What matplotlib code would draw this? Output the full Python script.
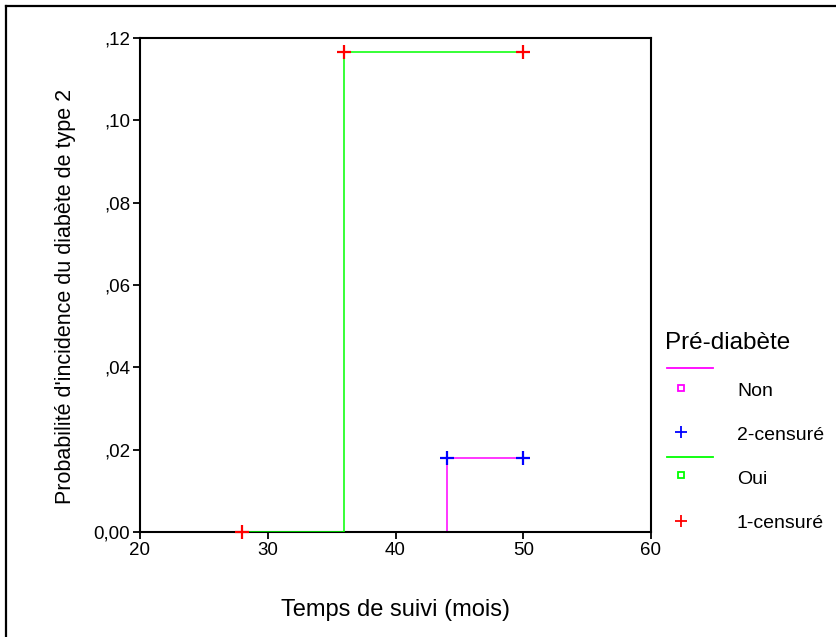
import matplotlib
matplotlib.use("Agg")
import matplotlib.pyplot as plt
from matplotlib.lines import Line2D

plt.rcParams['font.family'] = ['Liberation Sans', 'DejaVu Sans']

# Données (courbes en escalier)
non_t = [28, 44, 44, 50]
non_p = [0.0, 0.0, 0.018, 0.018]
non_cens_t = [44, 50]
non_cens_p = [0.018, 0.018]

oui_t = [28, 36, 36, 50]
oui_p = [0.0, 0.0, 0.1166, 0.1166]
oui_cens_t = [28, 36, 50]
oui_cens_p = [0.0, 0.1166, 0.1166]

xticks = [20, 30, 40, 50, 60]
yticks = [0.0, 0.02, 0.04, 0.06, 0.08, 0.10, 0.12]
ylabels = ['0,00', ',02', ',04', ',06', ',08', ',10', ',12']

W, H = 837, 637
fig = plt.figure(figsize=(W / 100, H / 100), dpi=100)
ax = fig.add_axes([140 / W, 1 - 532 / H, (651 - 140) / W, (532 - 38) / H])

ax.plot(non_t, non_p, color='#ff00ff', lw=1.1, zorder=2)
ax.plot(oui_t, oui_p, color='#00ff00', lw=1.1, zorder=3)
ax.plot(non_cens_t, non_cens_p, ls='none', marker='+', ms=10, mew=1.6,
        color='#0000ff', zorder=4, clip_on=False)
ax.plot(oui_cens_t, oui_cens_p, ls='none', marker='+', ms=10, mew=1.6,
        color='#ff0000', zorder=4, clip_on=False)

ax.set_xlim(20, 60)
ax.set_ylim(0, 0.12)
ax.set_xticks(xticks)
ax.set_xticklabels([str(v) for v in xticks])
ax.set_yticks(yticks)
ax.set_yticklabels(ylabels)
ax.tick_params(direction='out', length=5, width=1.3, labelsize=13.5, pad=2)
for s in ax.spines.values():
    s.set_linewidth(1.5)

ax.set_xlabel('Temps de suivi (mois)', fontsize=17, labelpad=29)
ax.set_ylabel("Probabilité d'incidence du diabète de type 2", fontsize=15.5)
ax.yaxis.set_label_coords(-0.125, 0.476)

# Légende façon SPSS, placée en pixels
def fx(px):
    return px / W

def fy(py):
    return 1 - py / H

fig.text(fx(665), fy(343), 'Pré-diabète', fontsize=17.5, va='center', ha='left')
fig.add_artist(Line2D([fx(667), fx(713)], [fy(368), fy(368)], color='#ff00ff', lw=1.3))
fig.add_artist(Line2D([fx(681)], [fy(388)], marker='s', ms=5, mfc='white',
                      mec='#ff00ff', mew=1.3, ls='none'))
fig.text(fx(737), fy(391), 'Non', fontsize=14, va='center')
fig.add_artist(Line2D([fx(681)], [fy(432)], marker='+', ms=9, mew=1.3,
                      color='#0000ff', ls='none'))
fig.text(fx(737), fy(435), '2-censuré', fontsize=14, va='center')
fig.add_artist(Line2D([fx(667), fx(713)], [fy(457), fy(457)], color='#00ff00', lw=1.3))
fig.add_artist(Line2D([fx(681)], [fy(475)], marker='s', ms=5, mfc='white',
                      mec='#00ff00', mew=1.3, ls='none'))
fig.text(fx(737), fy(479), 'Oui', fontsize=14, va='center')
fig.add_artist(Line2D([fx(681)], [fy(521)], marker='+', ms=9, mew=1.3,
                      color='#ff0000', ls='none'))
fig.text(fx(737), fy(523), '1-censuré', fontsize=14, va='center')

# Cadre (bords gauche et haut)
fig.add_artist(Line2D([fx(6), fx(6)], [fy(637), fy(6)], color='black', lw=1.6))
fig.add_artist(Line2D([fx(6), fx(837)], [fy(6), fy(6)], color='black', lw=1.6))

fig.savefig('out.png', dpi=100)
